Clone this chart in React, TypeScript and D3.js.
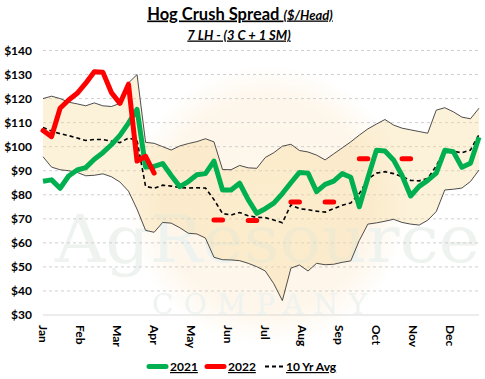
import React from "react";
import * as d3 from "d3";

const months = ["Jan", "Feb", "Mar", "Apr", "May", "Jun", "Jul", "Aug", "Sep", "Oct", "Nov", "Dec"];
const yTicks = [30, 40, 50, 60, 70, 80, 90, 100, 110, 120, 130, 140];

const values2021 = [85.6, 86.2, 82.7, 87.8, 90.3, 91.3, 94.8, 97.5, 100.8, 104.7, 109.8, 115.5, 91.5, 91.8, 93, 88, 83.4, 85.5, 88.3, 88.8, 94, 82, 82, 84.8, 78, 72.3, 74.2, 76.5, 80.5, 85, 89.3, 89, 81.3, 84.3, 85.7, 88.8, 87.3, 75, 87, 98.5, 98.2, 94.5, 88, 79.5, 83.5, 86, 89, 98.5, 97.9, 91.4, 93.1, 103.9];

const values2022: (number | null)[] = [106.7, 104.2, 116, 119.4, 122.2, 126.4, 131.2, 131, 122.5, 118, 126, 94, 96, 89,
  null, null, null, null, null, null, 69.5, 69.5, null, null, 69.3, 69.3, null, null, null, 77, 77, null, null, 77, 77,
  null, null, 95, 95, null, null, null, 95, 95, null, null, null, null, null, null, null, null];

const avg10 = [108, 106.5, 105.4, 104.6, 103.6, 102.6, 103, 103, 102.3, 101.7, 103.6, 102.6, 83.5, 82.7, 84, 83.6, 83, 82.8, 82.9, 82.8, 78, 72.2, 71.6, 72.6, 71.3, 70.6, 70.5, 69.5, 68.4, 75.8, 74.2, 73.8, 73.2, 72.8, 74.2, 75.6, 76.6, 80.5, 86.5, 89, 89.6, 88.8, 87.5, 86, 85.8, 86.8, 92, 98.8, 98, 97.5, 98.6, 105];

const bandHigh = [120, 121, 120, 118.5, 117.8, 117, 118.2, 117, 116.7, 118, 126.5, 130, 101.8, 101.4, 100, 98.6, 100.3, 101.3, 102.1, 103.3, 102, 90.5, 90.4, 92.2, 91.2, 91, 95.5, 97.5, 100.2, 101, 98.4, 97.8, 96.5, 94.5, 97, 99.5, 102, 104.8, 107.4, 109.4, 111.3, 109, 107.7, 107, 106.3, 105.6, 115.2, 116.2, 114.5, 112.3, 111.6, 116];

const bandLow = [95.8, 91.5, 90.4, 90, 89.3, 87.9, 88.1, 88.7, 87.5, 85.3, 81.5, 74, 65.2, 64.4, 68.5, 68.2, 66.3, 64, 63.7, 62, 54, 53, 52.9, 52.6, 51.5, 50.1, 48.3, 43, 36, 49.5, 50.8, 48.3, 51.5, 50.9, 51.1, 51.9, 52.5, 61, 67.8, 68.3, 69, 69.8, 68.5, 67.8, 67.4, 69.4, 73, 82, 82.3, 82.8, 85.5, 90.3];

const W = 485;
const H = 379;
const left = 43;
const right = 479;
const top = 50.5;
const bottom = 315;

export default function App() {
  const n = values2021.length;
  const x = d3.scaleLinear().domain([0, n - 1]).range([left, right]);
  const y = d3.scaleLinear().domain([30, 140]).range([bottom, top]);
  const weeksPerMonth = 52 / 12;

  const area = d3
    .area<number>()
    .x((_, i) => x(i))
    .y0((_, i) => y(bandLow[i]))
    .y1((d) => y(d));
  const line = d3
    .line<number>()
    .x((_, i) => x(i))
    .y((d) => y(d));
  const lineNull = d3
    .line<number | null>()
    .defined((d) => d !== null)
    .x((_, i) => x(i))
    .y((d) => y(d as number));

  const font = "Lato, 'Open Sans', sans-serif";

  return (
    <svg
      width={W}
      height={H}
      style={{ position: "absolute", left: 0, top: 0, background: "#fff" }}
      fontFamily={font}
    >
      <defs>
        <radialGradient id="sun" cx="50%" cy="50%" r="50%">
          <stop offset="0%" stopColor="#fff8ec" stopOpacity={0.9} />
          <stop offset="75%" stopColor="#fdf0dc" stopOpacity={0.6} />
          <stop offset="100%" stopColor="#fdf0dc" stopOpacity={0} />
        </radialGradient>
      </defs>
      {/* watermark */}
      <circle cx={268} cy={205} r={140} fill="url(#sun)" />
      <text x={55} y={262} fontFamily="'DejaVu Serif', serif" fontSize={66} fill="#eef3f0" textLength={425} lengthAdjust="spacingAndGlyphs">
        AgResource
      </text>
      <text x={152} y={314} fontFamily="'DejaVu Serif', serif" fontSize={28} fill="#eef3f0" textLength={215} lengthAdjust="spacing">
        COMPANY
      </text>

      {/* gridlines */}
      {yTicks.map((t) => (
        <line
          key={t}
          x1={left}
          x2={right}
          y1={y(t)}
          y2={y(t)}
          stroke={t === 30 ? "#d9d9d9" : "#cfcfcf"}
          strokeWidth={1}
          strokeDasharray={t === 30 ? undefined : "3,3"}
        />
      ))}

      {/* band */}
      <path d={area(bandHigh) || ""} fill="#f8d99c" fillOpacity={0.38} stroke="none" />
      <path d={line(bandHigh) || ""} fill="none" stroke="#3a3a3a" strokeWidth={0.9} />
      <path d={line(bandLow) || ""} fill="none" stroke="#3a3a3a" strokeWidth={0.9} />

      {/* 10 yr avg */}
      <path d={line(avg10) || ""} fill="none" stroke="#000" strokeWidth={1.6} strokeDasharray="4,3" />

      {/* 2021 */}
      <path d={line(values2021) || ""} fill="none" stroke="#00b050" strokeWidth={5} strokeLinejoin="round" />

      {/* 2022 */}
      <path d={lineNull(values2022) || ""} fill="none" stroke="#ff0000" strokeWidth={5} strokeLinejoin="round" strokeLinecap="round" />

      {/* y axis labels */}
      {yTicks.map((t) => (
        <text key={t} x={32} y={y(t)} dy="0.35em" textAnchor="end" fontSize={12} fontWeight="bold" fill="#000">
          {`$${t}`}
        </text>
      ))}

      {/* x axis labels */}
      {months.map((m, i) => (
        <text
          key={m}
          transform={`translate(${x(i * weeksPerMonth)},325) rotate(90)`}
          dy="0.35em"
          textAnchor="start"
          fontSize={12}
          fontWeight="bold"
          fill="#000"
        >
          {m}
        </text>
      ))}

      {/* title */}
      <text x={240} y={19.5} textAnchor="middle" fontWeight="bold" fill="#000" textDecoration="underline">
        <tspan fontSize={16.5}>Hog Crush Spread </tspan>
        <tspan fontSize={13} fontStyle="italic">($/Head)</tspan>
      </text>
      <text x={239} y={39.5} textAnchor="middle" fontWeight="bold" fontStyle="italic" fontSize={13} fill="#000" textDecoration="underline">
        7 LH - (3 C + 1 SM)
      </text>

      {/* legend */}
      <g fontSize={12} fontWeight="bold" fill="#000">
        <line x1={149} x2={166} y1={366.5} y2={366.5} stroke="#00b050" strokeWidth={5} strokeLinecap="round" />
        <text x={170} y={371} textDecoration="underline">2021</text>
        <line x1={207} x2={224} y1={366.5} y2={366.5} stroke="#ff0000" strokeWidth={5} strokeLinecap="round" />
        <text x={228} y={371} textDecoration="underline">2022</text>
        <line x1={265} x2={283} y1={366.5} y2={366.5} stroke="#000" strokeWidth={2} strokeDasharray="4,3" />
        <text x={286} y={371} textDecoration="underline">10 Yr Avg</text>
      </g>
    </svg>
  );
}
